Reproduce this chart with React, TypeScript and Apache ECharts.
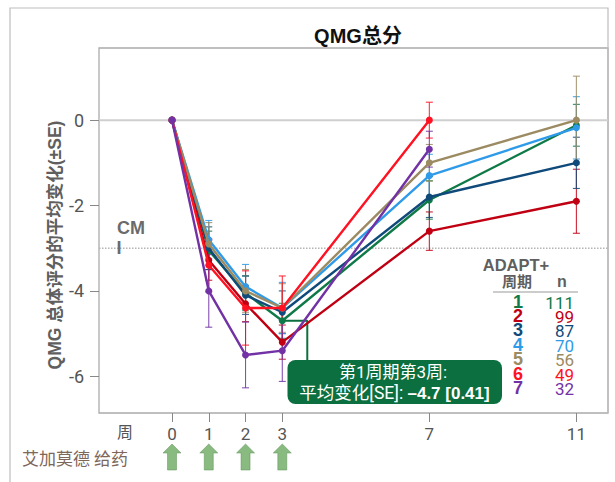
import React, { useEffect, useRef } from "react";
import * as echarts from "echarts";

const FONT = 'Roboto, "Noto Sans CJK SC", sans-serif';
const BOLD = '"Liberation Sans", "Noto Sans CJK SC", sans-serif';
const weeks = [0, 1, 2, 3, 7, 11];
const weekTicks = [0, 1, 2, 3, 7, 11];
const yTicks = [-6, -4, -2, 0];
const doseWeeks = [0, 1, 2, 3];
const cycles = ["1", "2", "3", "4", "5", "6", "7"];
const counts = ["111", "99", "87", "70", "56", "49", "32"];
const colors = ["#0F7A48", "#C00012", "#0F4A7A", "#2F9BE8", "#9C8B62", "#FF1222", "#7232A6"];

const means: (number | null)[][] = [
  [0, -3.05, -4.05, -4.7, -1.87, -0.12],
  [0, -3.28, -4.3, -5.2, -2.6, -1.9],
  [0, -3.0, -4.1, -4.5, -1.8, -1.0],
  [0, -2.8, -3.9, -4.4, -1.3, -0.18],
  [0, -2.9, -4.0, -4.4, -1.0, 0],
  [0, -3.4, -4.4, -4.4, 0.0, null],
  [0, -4.0, -5.5, -5.4, -0.68, null],
];
const errors: (number | null)[][] = [
  [null, 0.45, 0.4, 0.41, 0.45, 0.49],
  [null, 0.47, 0.42, 0.4, 0.45, 0.75],
  [null, 0.5, 0.45, 0.5, 0.48, 0.6],
  [null, 0.45, 0.52, 0.6, 0.5, 0.73],
  [null, 0.5, 0.5, 0.57, 0.43, 1.03],
  [null, 0.62, 0.87, 0.75, 0.42, null],
  [null, 0.85, 0.77, 0.72, 0.42, null],
];
const calloutPath = [[3, -4.7], [3.68, -4.7], [3.68, -5.62]];

const xMin = -1.986, xMax = 11.86, yMin = -6.86, yMax = 1.69;

export default function App() {
  const ref = useRef<HTMLDivElement>(null);
  useEffect(() => {
    const chart = echarts.init(ref.current!, undefined, { renderer: "svg" });
    const series: any[] = [];
    const refLine = (y: number, color: string, type: string, width: number) => ({
      type: "line", data: [[xMin, y], [xMax, y]], showSymbol: false, symbol: "none", silent: true, z: 1,
      lineStyle: { color, type, width },
    });
    series.push(refLine(0, "#CFCFCF", "solid", 2));
    series.push(refLine(-3, "#B5B5B5", "dotted", 1.5));
    means.forEach((m, i) => {
      const bars = weeks.flatMap((w, k) => {
        const v = m[k], e = errors[i][k];
        return v === null || e === null ? [] : [[w, v - e, v + e]];
      });
      series.push({
        type: "custom", data: bars, z: 2 + i, encode: { x: 0, y: [1, 2] }, clip: false,
        renderItem: (_p: any, api: any) => {
          const a = api.coord([api.value(0), api.value(1)]);
          const b = api.coord([api.value(0), api.value(2)]);
          const st = { stroke: colors[i], lineWidth: 1.1, fill: "none", opacity: 0.85 };
          const seg = (x1: number, y1: number, x2: number, y2: number) => ({ type: "line", shape: { x1, y1, x2, y2 }, style: st });
          return {
            type: "group",
            children: [seg(a[0], a[1], b[0], b[1]), seg(a[0] - 3.5, a[1], a[0] + 3.5, a[1]), seg(b[0] - 3.5, b[1], b[0] + 3.5, b[1])],
          };
        },
      });
      series.push({
        type: "line", z: 12 + i,
        data: weeks.flatMap((w, k) => (m[k] === null ? [] : [[w, m[k]]])),
        symbol: "circle", symbolSize: 7,
        itemStyle: { color: colors[i] },
        lineStyle: { color: colors[i], width: 2.4 },
      });
    });
    series.push({
      type: "line", data: calloutPath, symbol: "none", z: 11,
      lineStyle: { color: "#0B6F3F", width: 2 },
    });
    series.push({
      type: "scatter", data: doseWeeks.map((w) => [w, yMin]), clip: false, z: 5,
      symbol: "path://M9 0 L18 9 L13.5 9 L13.5 26 L4.5 26 L4.5 9 L0 9 Z",
      symbolSize: [18, 26], symbolOffset: [0, 44], symbolKeepAspect: false,
      itemStyle: { color: "#6BAA61", borderColor: "#5A8F52", borderWidth: 0.6 },
    });

    const T = (x: number, y: number, text: string, fill: string, size: number, weight: any, align = "center", family = FONT) => ({
      type: "text", x, y, z: 50,
      style: { text, fill, fontSize: size, fontWeight: weight, fontFamily: family, align, verticalAlign: "middle" },
    });
    const frame = (points: number[][]) => ({
      type: "polyline", z: 0, shape: { points }, style: { stroke: "#BDBDBD", lineWidth: 1.2, fill: "none" },
    });
    const rowsY = [302, 316, 330, 345, 359, 374, 388];
    const graphic: any[] = [
      frame([[10, 482], [10, 8], [608, 8], [608, 413]]),
      { ...T(55, 245, "QMG 总体评分的平均变化(±SE)", "#5F5F5F", 17.5, 700, "center", BOLD), rotation: Math.PI / 2 },
      T(125, 432, "周", "#555", 16, 400),
      T(75, 459, "艾加莫德 给药", "#7D675A", 17, 400),
      T(131, 228, "CM", "#6B6B6B", 18, 700, "center", BOLD),
      T(119, 248, "I", "#6B6B6B", 18, 700, "center", BOLD),
      T(516, 265, "ADAPT+", "#5F5F5F", 16.5, 700, "center", BOLD),
      T(517, 281, "周期", "#5F5F5F", 15, 700, "center", BOLD),
      T(562, 281, "n", "#5F5F5F", 16, 700, "center", BOLD),
      { type: "line", z: 50, shape: { x1: 493, y1: 292, x2: 578, y2: 292 }, style: { stroke: "#999", lineWidth: 1 } },
      { type: "rect", z: 60, shape: { x: 287.5, y: 360, width: 214.5, height: 44, r: 8 }, style: { fill: "#0B6F3F" } },
      { ...T(393, 372, "第1周期第3周:", "#FFFFFF", 17, 400), z: 61 },
      {
        type: "text", z: 61, x: 394.5, y: 393,
        style: {
          text: "{a|平均变化[SE]: }{b|–4.7 [0.41]}", align: "center", verticalAlign: "middle", fontFamily: FONT,
          rich: {
            a: { fill: "#FFFFFF", fontSize: 17.5, fontFamily: FONT },
            b: { fill: "#FFFFFF", fontSize: 17, fontWeight: 700, fontFamily: BOLD },
          },
        },
      },
    ];
    cycles.forEach((c, i) => {
      graphic.push(T(518, rowsY[i], c, colors[i], 18, 700, "center", BOLD));
      graphic.push(T(574, rowsY[i] + 1, counts[i], colors[i], 17, 400, "right"));
    });

    chart.setOption({
      animation: false,
      backgroundColor: "#fff",
      title: {
        text: "QMG总分", left: 353, top: 21, textAlign: "center",
        textStyle: { color: "#111", fontSize: 20, fontWeight: 700, fontFamily: BOLD },
      },
      grid: { left: 99, top: 48, width: 509, height: 365, show: true, borderColor: "#ABABAB", borderWidth: 1.3, backgroundColor: "transparent" },
      xAxis: {
        type: "value", min: xMin, max: xMax,
        axisLine: { show: false, onZero: false }, splitLine: { show: false },
        axisTick: { show: true, length: 9, customValues: weekTicks, lineStyle: { color: "#888" } },
        axisLabel: { customValues: weekTicks, color: "#555", fontSize: 17, margin: 12, fontFamily: FONT },
      },
      yAxis: {
        type: "value", min: yMin, max: yMax,
        axisLine: { show: false, onZero: false }, splitLine: { show: false },
        axisTick: { show: true, length: 9, customValues: yTicks, lineStyle: { color: "#888" } },
        axisLabel: { customValues: yTicks, color: "#555", fontSize: 18, margin: 15, fontFamily: FONT },
      },
      series,
      graphic,
    });
    return () => chart.dispose();
  }, []);
  return <div ref={ref} style={{ position: "fixed", left: 0, top: 0, width: 615, height: 482 }} />;
}
